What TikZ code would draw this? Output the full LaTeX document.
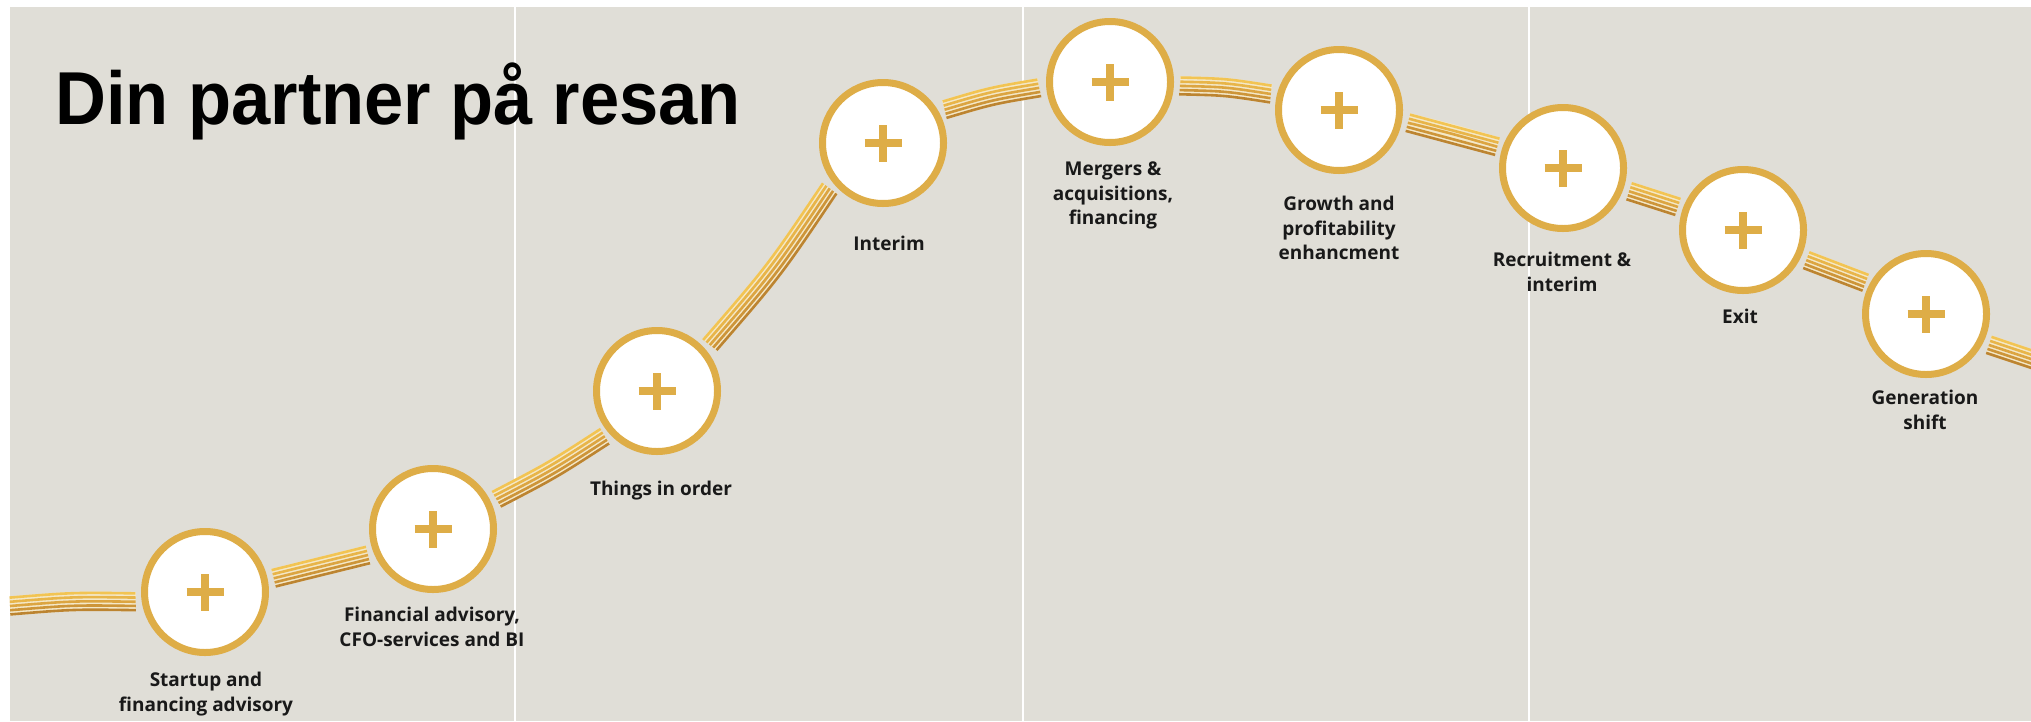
\documentclass[tikz,border=0pt]{standalone}
\usepackage{fontspec}
\setmainfont{Open Sans}
\newfontfamily\titlefont[FakeStretch=0.94]{Liberation Sans}
\newfontfamily\labfont{Open Sans}
\usetikzlibrary{calc}
\definecolor{bg}{HTML}{E0DED7}
\definecolor{gold}{HTML}{DEAD47}
\definecolor{cream}{HTML}{F4E8C8}
\definecolor{sa}{HTML}{F2C453}
\definecolor{sb}{HTML}{E8B549}
\definecolor{sc}{HTML}{DCA541}
\definecolor{sd}{HTML}{CD9539}
\definecolor{se}{HTML}{BC8431}
\newcommand\bandseg[3]{%
  \coordinate (bm) at ($(#1)!0.5!(#2)!#3 pt!90:(#2)$);
  \draw[bandbase] (#1) .. controls (bm) .. (#2);
  \foreach \o/\col in {8.4/sa,4.2/sb,0/sc,-4.2/sd,-8.4/se}{%
    \coordinate (pa) at ($(#1)!\o pt!90:(#2)$);
    \coordinate (pb) at ($(#2)!\o pt!-90:(#1)$);
    \coordinate (pc) at ($(bm)+(pa)-(#1)$);
    \draw[stripe=\col] (pa) .. controls (pc) .. (pb);
  }}
\begin{document}
\begin{tikzpicture}[x=1pt,y=-1pt,
  ring/.style={circle, draw=gold, line width=7pt, fill=white, minimum size=121pt, inner sep=0pt,
    path picture={\draw[gold, line width=8.5pt]
      ($(path picture bounding box.center)+(-18.5pt,0pt)$) -- ($(path picture bounding box.center)+(18.5pt,0pt)$)
      ($(path picture bounding box.center)+(0pt,-18.5pt)$) -- ($(path picture bounding box.center)+(0pt,18.5pt)$);}},
  lab/.style={font=\labfont\bfseries\fontsize{19}{24.5}\selectfont, align=center, anchor=north, inner sep=0pt, text=black!90},
  bandbase/.style={draw=cream, line width=19.4pt},
  stripe/.style={draw=#1, line width=2.6pt},
  sepline/.style={draw=white, line width=2pt}]
\useasboundingbox (0,0) rectangle (2031,721);
\fill[white] (0,0) rectangle (2031,721);
\fill[bg] (10,7) rectangle (2031,721);
\draw[sepline] (515,7) -- (515,721);
\draw[sepline] (1023,7) -- (1023,721);
\draw[sepline] (1529,7) -- (1529,721);
% circle positions
\coordinate (p1) at (205,592);
\coordinate (p2) at (433,529);
\coordinate (p3) at (657,391);
\coordinate (p4) at (883,143);
\coordinate (p5) at (1110,82);
\coordinate (p6) at (1339,110);
\coordinate (p7) at (1563,168);
\coordinate (p8) at (1743,230);
\coordinate (p9) at (1926,314);
% band end points
\coordinate (s0a) at (10,606);
\coordinate (s0b) at ($(p1)+(188:70pt)$);
\coordinate (s1a) at ($(p1)+(11.3:70pt)$);
\coordinate (s1b) at ($(p2)+(201.8:70pt)$);
\coordinate (s2a) at ($(p2)+(25.1:70pt)$);
\coordinate (s2b) at ($(p3)+(220.9:69pt)$);
\coordinate (s3a) at ($(p3)+(41:70pt)$);
\coordinate (s3b) at ($(p4)+(220.4:70pt)$);
\coordinate (s4a) at ($(p4)+(28.4:70pt)$);
\coordinate (s4b) at ($(p5)+(184.7:71pt)$);
\coordinate (s5a) at ($(p5)+(-3.2:70pt)$);
\coordinate (s5b) at ($(p6)+(166.8:70pt)$);
\coordinate (s6a) at ($(p6)+(-10.5:70pt)$);
\coordinate (s6b) at ($(p7)+(162.1:69pt)$);
\coordinate (s7a) at ($(p7)+(-19.4:70pt)$);
\coordinate (s7b) at ($(p8)+(160.5:69pt)$);
\coordinate (s8a) at ($(p8)+(-25.5:70pt)$);
\coordinate (s8b) at ($(p9)+(152.7:68pt)$);
\coordinate (s9a) at ($(p9)+(-26.2:70pt)$);
\coordinate (s9b) at (2046,364);
\bandseg{s0a}{s0b}{3}
\bandseg{s1a}{s1b}{0}
\bandseg{s2a}{s2b}{-3}
\bandseg{s3a}{s3b}{-6}
\bandseg{s4a}{s4b}{3}
\bandseg{s5a}{s5b}{3}
\bandseg{s6a}{s6b}{1}
\bandseg{s7a}{s7b}{0}
\bandseg{s8a}{s8b}{0}
\bandseg{s9a}{s9b}{0}
% circles
\node[ring] (c1) at (p1) {};
\node[ring] (c2) at (p2) {};
\node[ring] (c3) at (p3) {};
\node[ring] (c4) at (p4) {};
\node[ring] (c5) at (p5) {};
\node[ring] (c6) at (p6) {};
\node[ring] (c7) at (p7) {};
\node[ring] (c8) at (p8) {};
\node[ring] (c9) at (p9) {};
% labels
\node[lab] (l1) at (206,672) {Startup and\\financing advisory};
\node[lab] (l2) at (432,607) {Financial advisory,\\CFO-services and BI};
\node[lab] (l3) at (661,481) {Things in order};
\node[lab] (l4) at (889,236) {Interim};
\node[lab] (l5) at (1113,162) {Mergers \&\\acquisitions,\\financing};
\node[lab] (l6) at (1339,196) {Growth and\\profitability\\enhancment};
\node[lab] (l7) at (1562,252) {Recruitment \&\\interim};
\node[lab] (l8) at (1740,309) {Exit};
\node[lab] (l9) at (1925,390) {Generation\\shift};
% title
\node[font=\titlefont\bfseries\fontsize{75}{80}\selectfont, anchor=base west, inner sep=0pt] (title) at (55,124) {Din partner på resan};
\end{tikzpicture}
\end{document}
